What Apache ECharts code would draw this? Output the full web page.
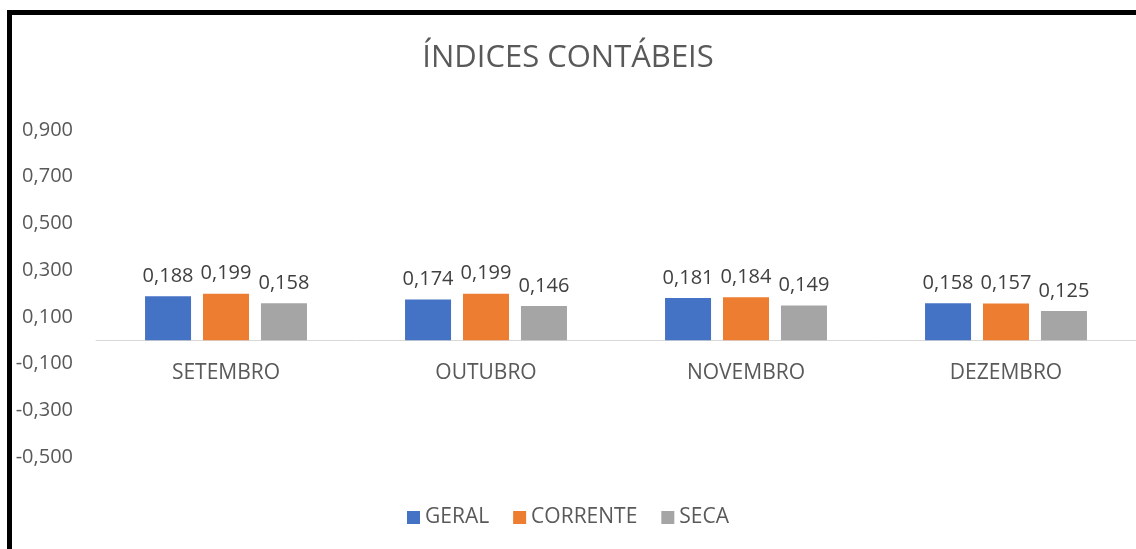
<!DOCTYPE html>
<html>
<head>
<meta charset="utf-8">
<title>Índices Contábeis</title>
<script src="https://cdn.jsdelivr.net/npm/echarts@6/dist/echarts.min.js"></script>
<style>
  html, body { margin: 0; padding: 0; background: #fff; }
  #wrap { position: relative; width: 1136px; height: 549px; overflow: hidden; }
  #chart { position: absolute; left: 0; top: 0; width: 1136px; height: 549px; }
  /* moldura preta (só borda esquerda e superior aparecem no recorte) */
  #frame {
    position: absolute; left: 7px; top: 10px; width: 1200px; height: 600px;
    border-left: 5px solid #000; border-top: 5px solid #000; pointer-events: none;
  }
</style>
</head>
<body>
<div id="wrap">
  <div id="chart"></div>
  <div id="frame"></div>
</div>
<script>
const meses = ['SETEMBRO', 'OUTUBRO', 'NOVEMBRO', 'DEZEMBRO']
const geral = [0.188, 0.174, 0.181, 0.158]
const corrente = [0.199, 0.199, 0.184, 0.157]
const seca = [0.158, 0.146, 0.149, 0.125]

const fonte = '"Open Sans", "Noto Sans", sans-serif'
const fmt = v => v.toFixed(3).replace('.', ',')

const chart = echarts.init(document.getElementById('chart'))

const serie = (name, data, color) => ({
  name,
  type: 'bar',
  data,
  barWidth: 46,
  barGap: '26%',
  itemStyle: { color },
  label: {
    show: true,
    position: 'top',
    distance: 10,
    color: '#404040',
    fontSize: 20,
    fontFamily: fonte,
    formatter: p => fmt(p.value)
  }
})

chart.setOption({
  animation: false,
  title: {
    text: 'ÍNDICES CONTÁBEIS',
    left: 'center',
    top: 38,
    textStyle: { color: '#595959', fontSize: 31, fontWeight: 'normal', fontFamily: fonte }
  },
  legend: {
    bottom: 16,
    left: 'center',
    itemWidth: 13,
    itemHeight: 13,
    itemGap: 24,
    icon: 'rect',
    textStyle: { color: '#595959', fontSize: 21, fontFamily: fonte }
  },
  grid: { left: 96, top: 130, width: 1046, height: 327 },
  xAxis: {
    type: 'category',
    data: meses,
    // eixo desenhado na linha do zero
    offset: -117,
    axisLine: { onZero: false, lineStyle: { color: '#d9d9d9', width: 1 } },
    axisTick: { show: false },
    axisLabel: { color: '#595959', fontSize: 21, fontFamily: fonte, margin: 23 }
  },
  yAxis: {
    type: 'value',
    min: -0.5,
    max: 0.9,
    interval: 0.2,
    axisLine: { show: false },
    axisTick: { show: false },
    splitLine: { show: false },
    axisLabel: { color: '#595959', fontSize: 20, fontFamily: fonte, margin: 23, formatter: v => fmt(v) }
  },
  series: [
    serie('GERAL', geral, '#4472C4'),
    serie('CORRENTE', corrente, '#ED7D31'),
    serie('SECA', seca, '#A5A5A5')
  ]
})
</script>
</body>
</html>
